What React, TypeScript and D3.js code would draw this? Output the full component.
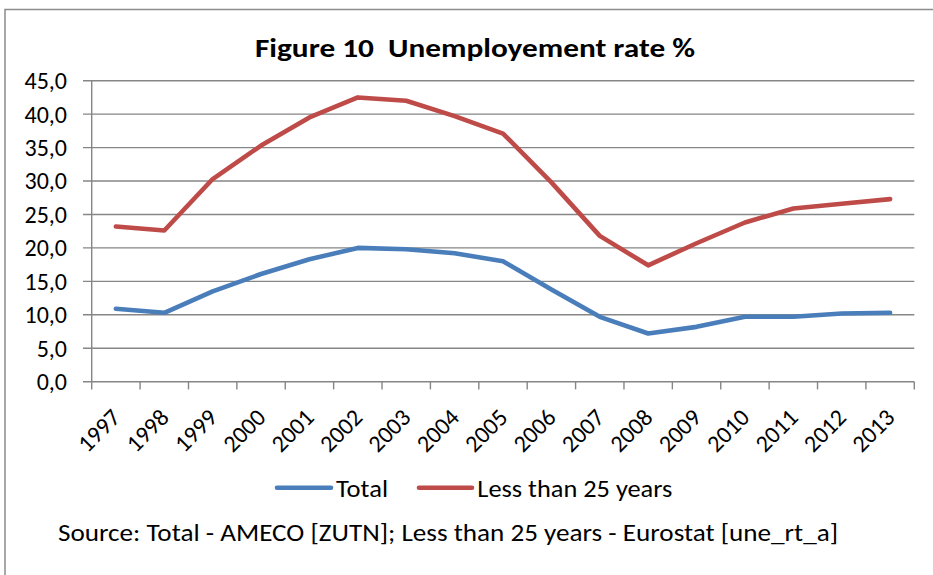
import React from "react";
import * as d3 from "d3";

const years = ["1997","1998","1999","2000","2001","2002","2003","2004","2005","2006","2007","2008","2009","2010","2011","2012","2013"];
const total = [10.9, 10.3, 13.5, 16.1, 18.3, 20.0, 19.8, 19.2, 18.0, 13.8, 9.7, 7.2, 8.2, 9.7, 9.7, 10.2, 10.3];
const under25 = [23.2, 22.6, 30.3, 35.3, 39.5, 42.5, 42.0, 39.7, 37.1, 29.8, 21.8, 17.4, 20.7, 23.8, 25.9, 26.6, 27.3];
const yTicks = [0, 5, 10, 15, 20, 25, 30, 35, 40, 45];
const seriesNames = ["Total", "Less than 25 years"];
const seriesColors = ["#4A7EBB", "#BE4B48"];
const title = "Figure 10  Unemployement rate %";
const source = "Source: Total - AMECO [ZUTN]; Less than 25 years - Eurostat [une_rt_a]";

const FONT = "Carlito, Lato, sans-serif";

export default function App() {
  const W = 933, H = 575;
  const x = d3.scaleBand<string>().domain(years).range([91.7, 914.3]).padding(0);
  const y = d3.scaleLinear().domain([0, 45]).range([381.7, 80.7]);
  const line = d3.line<number>()
    .x((_, i) => (x(years[i]) as number) + x.bandwidth() / 2)
    .y((d) => y(d));
  const grid = "#868686";
  const fmt = (v: number) => v.toFixed(1).replace(".", ",");
  const x0 = x.range()[0], x1 = x.range()[1];
  const bottom = y(0);
  const series = [total, under25];

  return (
    <svg width={W} height={H} style={{ position: "absolute", left: 0, top: 0, background: "#fff" }}>
      <rect x={0} y={0} width={W} height={H} fill="#fff" />
      <rect x={5} y={9.5} width={1200} height={1200} fill="none" stroke="#8c8c8c" strokeWidth={1.5} />
      <text x={255} y={57.3} fontFamily={FONT} fontWeight="bold" fontSize={26}
        textLength={440} lengthAdjust="spacingAndGlyphs"
        style={{ whiteSpace: "pre" }} fill="#000">{title}</text>
      {yTicks.map((t) => (
        <g key={t}>
          <line x1={83} x2={x1} y1={y(t)} y2={y(t)} stroke={grid} strokeWidth={1.4} />
          <text x={67} y={y(t) + 8.4} textAnchor="end" fontFamily={FONT} fontSize={24} fill="#000">{fmt(t)}</text>
        </g>
      ))}
      <line x1={x0} x2={x0} y1={y(45)} y2={bottom} stroke={grid} strokeWidth={1.4} />
      {years.map((yr) => (
        <line key={"t" + yr} x1={x(yr) as number} x2={x(yr) as number} y1={bottom} y2={bottom + 7.7} stroke={grid} strokeWidth={1.4} />
      ))}
      <line x1={x1} x2={x1} y1={bottom} y2={bottom + 7.7} stroke={grid} strokeWidth={1.4} />
      {years.map((yr) => {
        const cx = (x(yr) as number) + x.bandwidth() / 2 + 6;
        const cy = 419;
        return (
          <text key={"l" + yr} x={cx} y={cy} textAnchor="end" transform={`rotate(-45 ${cx} ${cy})`}
            fontFamily={FONT} fontSize={24} fill="#000">{yr}</text>
        );
      })}
      {series.map((s, i) => (
        <path key={"s" + i} d={line(s) as string} fill="none" stroke={seriesColors[i]} strokeWidth={4.6}
          strokeLinejoin="round" strokeLinecap="round" />
      ))}
      <line x1={277} x2={331} y1={487.7} y2={487.7} stroke={seriesColors[0]} strokeWidth={4.6} strokeLinecap="round" />
      <text x={336} y={497.3} fontFamily={FONT} fontSize={25} textLength={52} lengthAdjust="spacingAndGlyphs" fill="#000">{seriesNames[0]}</text>
      <line x1={419} x2={472} y1={487.7} y2={487.7} stroke={seriesColors[1]} strokeWidth={4.6} strokeLinecap="round" />
      <text x={477.3} y={497.3} fontFamily={FONT} fontSize={25} textLength={195} lengthAdjust="spacingAndGlyphs" fill="#000">{seriesNames[1]}</text>
      <text x={58} y={541} fontFamily={FONT} fontSize={25} textLength={780} lengthAdjust="spacingAndGlyphs" fill="#000">{source}</text>
    </svg>
  );
}
